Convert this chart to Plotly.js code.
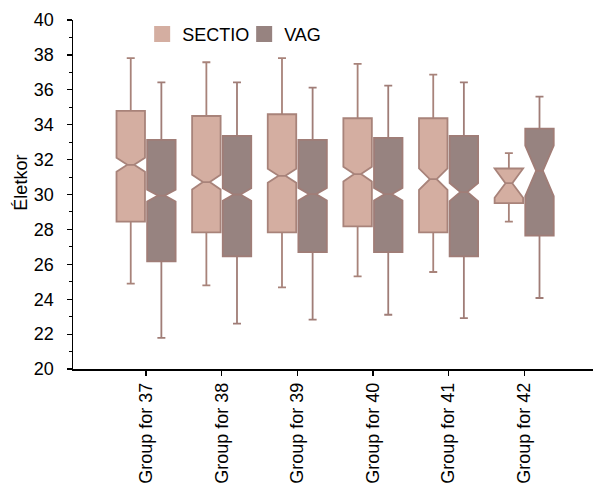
<!DOCTYPE html>
<html>
<head>
<meta charset="utf-8">
<script src="https://cdn.plot.ly/plotly-3.0.1.min.js"></script>
<style>html,body{margin:0;padding:0;background:#fff;}#chart{width:593px;height:490px;}</style>
</head>
<body>
<div id="chart"></div>
<script>
const categories = ["Group for 37","Group for 38","Group for 39","Group for 40","Group for 41","Group for 42"];

const sectioLower  = [24.89, 24.79, 24.68, 25.31, 25.56, 28.45];
const sectioQ1     = [28.45, 27.83, 27.83, 28.17, 27.83, 29.51];
const sectioMedian = [31.70, 30.71, 31.07, 31.17, 30.88, 30.65];
const sectioQ3     = [34.79, 34.50, 34.60, 34.37, 34.37, 31.49];
const sectioUpper  = [37.81, 37.58, 37.81, 37.48, 36.87, 32.37];
const sectioNotch  = [0.40, 0.42, 0.40, 0.42, 0.62, 0.84];

const vagLower  = [21.78, 22.60, 22.83, 23.11, 22.92, 24.07];
const vagQ1     = [26.17, 26.45, 26.70, 26.70, 26.45, 27.64];
const vagMedian = [29.94, 30.00, 30.02, 30.02, 30.14, 31.36];
const vagQ3     = [33.13, 33.36, 33.13, 33.25, 33.36, 33.78];
const vagUpper  = [36.43, 36.43, 36.13, 36.24, 36.43, 35.61];
const vagNotch  = [0.34, 0.36, 0.36, 0.36, 0.52, 1.45];

const seriesNames = ["SECTIO", "VAG"];
const yTitle = "Életkor";
const FONT = "Liberation Sans, Arial, sans-serif";
const FS = 18;

const traces = [
  {
    type: "box", name: seriesNames[0], x: categories,
    lowerfence: sectioLower, q1: sectioQ1, median: sectioMedian, q3: sectioQ3, upperfence: sectioUpper,
    notchspan: sectioNotch, notched: true, notchwidth: 0.38,
    fillcolor: "#d4aea1", line: {color: "#a8837a", width: 1.8},
    whiskerwidth: 0.28, showlegend: false, hoverinfo: "skip"
  },
  {
    type: "box", name: seriesNames[1], x: categories,
    lowerfence: vagLower, q1: vagQ1, median: vagMedian, q3: vagQ3, upperfence: vagUpper,
    notchspan: vagNotch, notched: true, notchwidth: 0.38,
    fillcolor: "#978380", line: {color: "#a07d77", width: 1.8},
    whiskerwidth: 0.28, showlegend: false, hoverinfo: "skip"
  },
  {
    type: "scatter", mode: "markers", name: seriesNames[0], x: [null], y: [null],
    marker: {symbol: "square", size: 16, color: "#d4aea1"}, showlegend: true
  },
  {
    type: "scatter", mode: "markers", name: seriesNames[1], x: [null], y: [null],
    marker: {symbol: "square", size: 16, color: "#978380"}, showlegend: true
  }
];

const layout = {
  width: 593, height: 490,
  margin: {l: 73, r: 0, t: 20, b: 121, pad: 0},
  paper_bgcolor: "#ffffff", plot_bgcolor: "#ffffff",
  font: {family: FONT, size: FS, color: "#000"},
  boxmode: "group", boxgap: 0.19, boxgroupgap: 0.07,
  showlegend: true,
  legend: {orientation: "h", x: 0.133, y: 1.012, xanchor: "left", yanchor: "top",
           font: {family: FONT, size: FS, color: "#000"}, bgcolor: "rgba(0,0,0,0)",
           itemwidth: 30, traceorder: "normal", entrywidth: 57, entrywidthmode: "pixels"},
  xaxis: {
    type: "category", range: [-0.966, 5.91],
    showline: true, linecolor: "#000", linewidth: 1.5,
    ticks: "outside", ticklen: 5, tickcolor: "#000", tickwidth: 1.2,
    tickangle: -90, showgrid: false, zeroline: false,
    tickfont: {family: FONT, size: FS, color: "#000"}
  },
  yaxis: {
    range: [20, 40], dtick: 2, tick0: 20,
    showline: true, linecolor: "#000", linewidth: 1.5,
    ticks: "outside", ticklen: 5, tickcolor: "#000", tickwidth: 1.2,
    minor: {dtick: 1, ticks: "outside", ticklen: 3, tickcolor: "#000", tickwidth: 1},
    showgrid: false, zeroline: false, ticklabelstandoff: 9,
    tickfont: {family: FONT, size: FS, color: "#000"}
  },
  annotations: [{
    text: yTitle, xref: "paper", yref: "paper", x: -0.1, y: 0.534,
    xanchor: "center", yanchor: "middle", textangle: -90, showarrow: false,
    font: {family: FONT, size: FS, color: "#000"}
  }]
};

Plotly.newPlot("chart", traces, layout, {staticPlot: true, displayModeBar: false});
</script>
</body>
</html>
